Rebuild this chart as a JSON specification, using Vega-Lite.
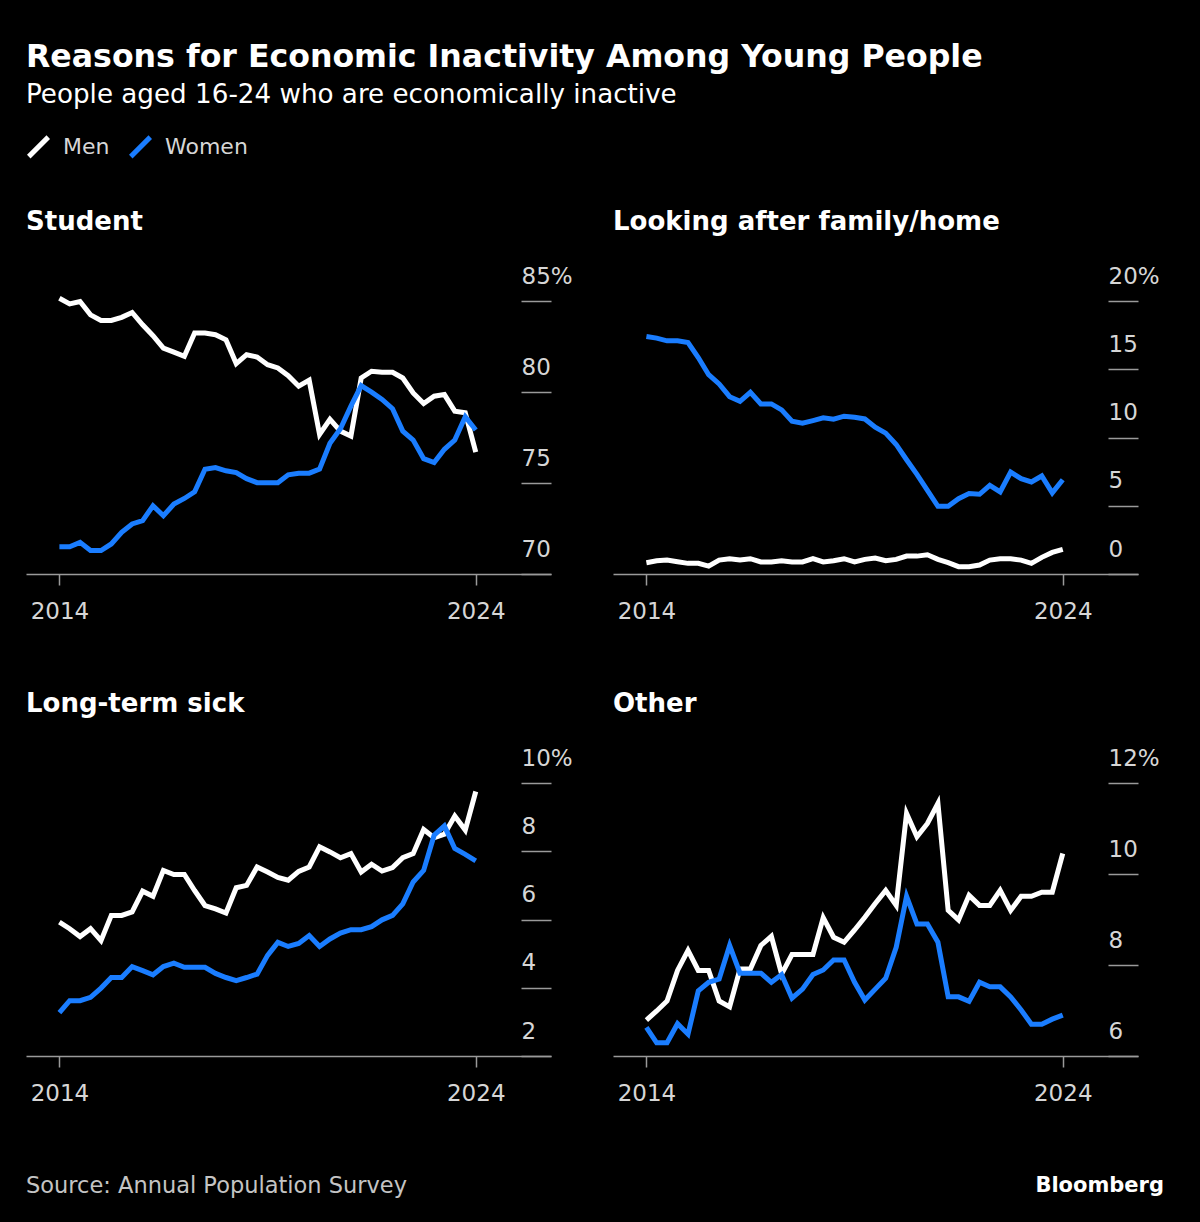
{
  "$schema": "https://vega.github.io/schema/vega-lite/v6.json",
  "background": "#000000",
  "padding": {"left": 26, "right": 36, "top": 42, "bottom": 25},
  "title": {
    "text": "Reasons for Economic Inactivity Among Young People",
    "subtitle": "People aged 16-24 who are economically inactive",
    "anchor": "start",
    "font": "DejaVu Sans",
    "fontSize": 31.6,
    "fontWeight": "bold",
    "color": "#ffffff",
    "subtitleFont": "DejaVu Sans",
    "subtitleFontSize": 26.2,
    "subtitleFontWeight": "normal",
    "subtitleColor": "#ffffff",
    "subtitlePadding": 8,
    "offset": 26
  },
  "datasets": {
    "student": [
      {"date":"2014-01-01","sex":"Men","value":85.15},{"date":"2014-04-01","sex":"Men","value":84.84},{"date":"2014-07-01","sex":"Men","value":84.97},{"date":"2014-10-01","sex":"Men","value":84.24},
      {"date":"2015-01-01","sex":"Men","value":83.93},{"date":"2015-04-01","sex":"Men","value":83.93},{"date":"2015-07-01","sex":"Men","value":84.1},{"date":"2015-10-01","sex":"Men","value":84.37},
      {"date":"2016-01-01","sex":"Men","value":83.69},{"date":"2016-04-01","sex":"Men","value":83.09},{"date":"2016-07-01","sex":"Men","value":82.41},{"date":"2016-10-01","sex":"Men","value":82.19},
      {"date":"2017-01-01","sex":"Men","value":81.96},{"date":"2017-04-01","sex":"Men","value":83.24},{"date":"2017-07-01","sex":"Men","value":83.24},{"date":"2017-10-01","sex":"Men","value":83.15},
      {"date":"2018-01-01","sex":"Men","value":82.87},{"date":"2018-04-01","sex":"Men","value":81.56},{"date":"2018-07-01","sex":"Men","value":82.05},{"date":"2018-10-01","sex":"Men","value":81.92},
      {"date":"2019-01-01","sex":"Men","value":81.5},{"date":"2019-04-01","sex":"Men","value":81.32},{"date":"2019-07-01","sex":"Men","value":80.9},{"date":"2019-10-01","sex":"Men","value":80.32},
      {"date":"2020-01-01","sex":"Men","value":80.65},{"date":"2020-04-01","sex":"Men","value":77.67},{"date":"2020-07-01","sex":"Men","value":78.5},{"date":"2020-10-01","sex":"Men","value":77.85},
      {"date":"2021-01-01","sex":"Men","value":77.58},{"date":"2021-04-01","sex":"Men","value":80.77},{"date":"2021-07-01","sex":"Men","value":81.14},{"date":"2021-10-01","sex":"Men","value":81.08},
      {"date":"2022-01-01","sex":"Men","value":81.08},{"date":"2022-04-01","sex":"Men","value":80.77},{"date":"2022-07-01","sex":"Men","value":79.95},{"date":"2022-10-01","sex":"Men","value":79.37},
      {"date":"2023-01-01","sex":"Men","value":79.77},{"date":"2023-04-01","sex":"Men","value":79.86},{"date":"2023-07-01","sex":"Men","value":78.95},{"date":"2023-10-01","sex":"Men","value":78.86},
      {"date":"2024-01-01","sex":"Men","value":76.7},
      {"date":"2014-01-01","sex":"Women","value":71.5},{"date":"2014-04-01","sex":"Women","value":71.5},{"date":"2014-07-01","sex":"Women","value":71.74},{"date":"2014-10-01","sex":"Women","value":71.29},
      {"date":"2015-01-01","sex":"Women","value":71.29},{"date":"2015-04-01","sex":"Women","value":71.65},{"date":"2015-07-01","sex":"Women","value":72.29},{"date":"2015-10-01","sex":"Women","value":72.75},
      {"date":"2016-01-01","sex":"Women","value":72.93},{"date":"2016-04-01","sex":"Women","value":73.75},{"date":"2016-07-01","sex":"Women","value":73.2},{"date":"2016-10-01","sex":"Women","value":73.84},
      {"date":"2017-01-01","sex":"Women","value":74.15},{"date":"2017-04-01","sex":"Women","value":74.52},{"date":"2017-07-01","sex":"Women","value":75.76},{"date":"2017-10-01","sex":"Women","value":75.85},
      {"date":"2018-01-01","sex":"Women","value":75.67},{"date":"2018-04-01","sex":"Women","value":75.57},{"date":"2018-07-01","sex":"Women","value":75.24},{"date":"2018-10-01","sex":"Women","value":75.02},
      {"date":"2019-01-01","sex":"Women","value":75.02},{"date":"2019-04-01","sex":"Women","value":75.02},{"date":"2019-07-01","sex":"Women","value":75.45},{"date":"2019-10-01","sex":"Women","value":75.54},
      {"date":"2020-01-01","sex":"Women","value":75.54},{"date":"2020-04-01","sex":"Women","value":75.76},{"date":"2020-07-01","sex":"Women","value":77.18},{"date":"2020-10-01","sex":"Women","value":77.98},
      {"date":"2021-01-01","sex":"Women","value":79.22},{"date":"2021-04-01","sex":"Women","value":80.35},{"date":"2021-07-01","sex":"Women","value":79.99},{"date":"2021-10-01","sex":"Women","value":79.59},
      {"date":"2022-01-01","sex":"Women","value":79.08},{"date":"2022-04-01","sex":"Women","value":77.85},{"date":"2022-07-01","sex":"Women","value":77.36},{"date":"2022-10-01","sex":"Women","value":76.34},
      {"date":"2023-01-01","sex":"Women","value":76.12},{"date":"2023-04-01","sex":"Women","value":76.85},{"date":"2023-07-01","sex":"Women","value":77.36},{"date":"2023-10-01","sex":"Women","value":78.64},
      {"date":"2024-01-01","sex":"Women","value":77.91}
    ],
    "family": [
      {"date":"2014-01-01","sex":"Men","value":0.83},{"date":"2014-04-01","sex":"Men","value":0.97},{"date":"2014-07-01","sex":"Men","value":1.02},{"date":"2014-10-01","sex":"Men","value":0.9},
      {"date":"2015-01-01","sex":"Men","value":0.78},{"date":"2015-04-01","sex":"Men","value":0.78},{"date":"2015-07-01","sex":"Men","value":0.58},{"date":"2015-10-01","sex":"Men","value":1.02},
      {"date":"2016-01-01","sex":"Men","value":1.12},{"date":"2016-04-01","sex":"Men","value":1.02},{"date":"2016-07-01","sex":"Men","value":1.12},{"date":"2016-10-01","sex":"Men","value":0.88},
      {"date":"2017-01-01","sex":"Men","value":0.88},{"date":"2017-04-01","sex":"Men","value":0.97},{"date":"2017-07-01","sex":"Men","value":0.88},{"date":"2017-10-01","sex":"Men","value":0.88},
      {"date":"2018-01-01","sex":"Men","value":1.12},{"date":"2018-04-01","sex":"Men","value":0.88},{"date":"2018-07-01","sex":"Men","value":0.97},{"date":"2018-10-01","sex":"Men","value":1.12},
      {"date":"2019-01-01","sex":"Men","value":0.88},{"date":"2019-04-01","sex":"Men","value":1.07},{"date":"2019-07-01","sex":"Men","value":1.17},{"date":"2019-10-01","sex":"Men","value":0.97},
      {"date":"2020-01-01","sex":"Men","value":1.07},{"date":"2020-04-01","sex":"Men","value":1.31},{"date":"2020-07-01","sex":"Men","value":1.31},{"date":"2020-10-01","sex":"Men","value":1.41},
      {"date":"2021-01-01","sex":"Men","value":1.07},{"date":"2021-04-01","sex":"Men","value":0.83},{"date":"2021-07-01","sex":"Men","value":0.54},{"date":"2021-10-01","sex":"Men","value":0.54},
      {"date":"2022-01-01","sex":"Men","value":0.66},{"date":"2022-04-01","sex":"Men","value":1.02},{"date":"2022-07-01","sex":"Men","value":1.12},{"date":"2022-10-01","sex":"Men","value":1.12},
      {"date":"2023-01-01","sex":"Men","value":1.02},{"date":"2023-04-01","sex":"Men","value":0.78},{"date":"2023-07-01","sex":"Men","value":1.22},{"date":"2023-10-01","sex":"Men","value":1.58},
      {"date":"2024-01-01","sex":"Men","value":1.8},
      {"date":"2014-01-01","sex":"Women","value":17.4},{"date":"2014-04-01","sex":"Women","value":17.28},{"date":"2014-07-01","sex":"Women","value":17.08},{"date":"2014-10-01","sex":"Women","value":17.08},
      {"date":"2015-01-01","sex":"Women","value":16.96},{"date":"2015-04-01","sex":"Women","value":15.86},{"date":"2015-07-01","sex":"Women","value":14.6},{"date":"2015-10-01","sex":"Women","value":13.92},
      {"date":"2016-01-01","sex":"Women","value":12.99},{"date":"2016-04-01","sex":"Women","value":12.65},{"date":"2016-07-01","sex":"Women","value":13.31},{"date":"2016-10-01","sex":"Women","value":12.46},
      {"date":"2017-01-01","sex":"Women","value":12.46},{"date":"2017-04-01","sex":"Women","value":12.02},{"date":"2017-07-01","sex":"Women","value":11.19},{"date":"2017-10-01","sex":"Women","value":11.05},
      {"date":"2018-01-01","sex":"Women","value":11.24},{"date":"2018-04-01","sex":"Women","value":11.44},{"date":"2018-07-01","sex":"Women","value":11.34},{"date":"2018-10-01","sex":"Women","value":11.56},
      {"date":"2019-01-01","sex":"Women","value":11.48},{"date":"2019-04-01","sex":"Women","value":11.36},{"date":"2019-07-01","sex":"Women","value":10.75},{"date":"2019-10-01","sex":"Women","value":10.32},
      {"date":"2020-01-01","sex":"Women","value":9.49},{"date":"2020-04-01","sex":"Women","value":8.37},{"date":"2020-07-01","sex":"Women","value":7.3},{"date":"2020-10-01","sex":"Women","value":6.13},
      {"date":"2021-01-01","sex":"Women","value":4.96},{"date":"2021-04-01","sex":"Women","value":4.96},{"date":"2021-07-01","sex":"Women","value":5.52},{"date":"2021-10-01","sex":"Women","value":5.89},
      {"date":"2022-01-01","sex":"Women","value":5.84},{"date":"2022-04-01","sex":"Women","value":6.5},{"date":"2022-07-01","sex":"Women","value":6.01},{"date":"2022-10-01","sex":"Women","value":7.47},
      {"date":"2023-01-01","sex":"Women","value":6.98},{"date":"2023-04-01","sex":"Women","value":6.74},{"date":"2023-07-01","sex":"Women","value":7.18},{"date":"2023-10-01","sex":"Women","value":5.94},
      {"date":"2024-01-01","sex":"Women","value":6.91}
    ],
    "sick": [
      {"date":"2014-01-01","sex":"Men","value":5.92},{"date":"2014-04-01","sex":"Men","value":5.73},{"date":"2014-07-01","sex":"Men","value":5.5},{"date":"2014-10-01","sex":"Men","value":5.73},
      {"date":"2015-01-01","sex":"Men","value":5.38},{"date":"2015-04-01","sex":"Men","value":6.12},{"date":"2015-07-01","sex":"Men","value":6.12},{"date":"2015-10-01","sex":"Men","value":6.22},
      {"date":"2016-01-01","sex":"Men","value":6.83},{"date":"2016-04-01","sex":"Men","value":6.68},{"date":"2016-07-01","sex":"Men","value":7.44},{"date":"2016-10-01","sex":"Men","value":7.32},
      {"date":"2017-01-01","sex":"Men","value":7.32},{"date":"2017-04-01","sex":"Men","value":6.85},{"date":"2017-07-01","sex":"Men","value":6.41},{"date":"2017-10-01","sex":"Men","value":6.31},
      {"date":"2018-01-01","sex":"Men","value":6.19},{"date":"2018-04-01","sex":"Men","value":6.93},{"date":"2018-07-01","sex":"Men","value":7.0},{"date":"2018-10-01","sex":"Men","value":7.54},
      {"date":"2019-01-01","sex":"Men","value":7.39},{"date":"2019-04-01","sex":"Men","value":7.23},{"date":"2019-07-01","sex":"Men","value":7.15},{"date":"2019-10-01","sex":"Men","value":7.41},
      {"date":"2020-01-01","sex":"Men","value":7.54},{"date":"2020-04-01","sex":"Men","value":8.13},{"date":"2020-07-01","sex":"Men","value":7.98},{"date":"2020-10-01","sex":"Men","value":7.81},
      {"date":"2021-01-01","sex":"Men","value":7.93},{"date":"2021-04-01","sex":"Men","value":7.39},{"date":"2021-07-01","sex":"Men","value":7.62},{"date":"2021-10-01","sex":"Men","value":7.42},
      {"date":"2022-01-01","sex":"Men","value":7.52},{"date":"2022-04-01","sex":"Men","value":7.81},{"date":"2022-07-01","sex":"Men","value":7.93},{"date":"2022-10-01","sex":"Men","value":8.64},
      {"date":"2023-01-01","sex":"Men","value":8.4},{"date":"2023-04-01","sex":"Men","value":8.5},{"date":"2023-07-01","sex":"Men","value":9.03},{"date":"2023-10-01","sex":"Men","value":8.62},
      {"date":"2024-01-01","sex":"Men","value":9.75},
      {"date":"2014-01-01","sex":"Women","value":3.27},{"date":"2014-04-01","sex":"Women","value":3.62},{"date":"2014-07-01","sex":"Women","value":3.62},{"date":"2014-10-01","sex":"Women","value":3.72},
      {"date":"2015-01-01","sex":"Women","value":3.99},{"date":"2015-04-01","sex":"Women","value":4.3},{"date":"2015-07-01","sex":"Women","value":4.3},{"date":"2015-10-01","sex":"Women","value":4.62},
      {"date":"2016-01-01","sex":"Women","value":4.5},{"date":"2016-04-01","sex":"Women","value":4.38},{"date":"2016-07-01","sex":"Women","value":4.62},{"date":"2016-10-01","sex":"Women","value":4.72},
      {"date":"2017-01-01","sex":"Women","value":4.6},{"date":"2017-04-01","sex":"Women","value":4.6},{"date":"2017-07-01","sex":"Women","value":4.6},{"date":"2017-10-01","sex":"Women","value":4.42},
      {"date":"2018-01-01","sex":"Women","value":4.3},{"date":"2018-04-01","sex":"Women","value":4.21},{"date":"2018-07-01","sex":"Women","value":4.3},{"date":"2018-10-01","sex":"Women","value":4.4},
      {"date":"2019-01-01","sex":"Women","value":4.95},{"date":"2019-04-01","sex":"Women","value":5.33},{"date":"2019-07-01","sex":"Women","value":5.21},{"date":"2019-10-01","sex":"Women","value":5.3},
      {"date":"2020-01-01","sex":"Women","value":5.53},{"date":"2020-04-01","sex":"Women","value":5.21},{"date":"2020-07-01","sex":"Women","value":5.43},{"date":"2020-10-01","sex":"Women","value":5.6},
      {"date":"2021-01-01","sex":"Women","value":5.7},{"date":"2021-04-01","sex":"Women","value":5.7},{"date":"2021-07-01","sex":"Women","value":5.79},{"date":"2021-10-01","sex":"Women","value":5.99},
      {"date":"2022-01-01","sex":"Women","value":6.12},{"date":"2022-04-01","sex":"Women","value":6.46},{"date":"2022-07-01","sex":"Women","value":7.1},{"date":"2022-10-01","sex":"Women","value":7.44},
      {"date":"2023-01-01","sex":"Women","value":8.47},{"date":"2023-04-01","sex":"Women","value":8.74},{"date":"2023-07-01","sex":"Women","value":8.08},{"date":"2023-10-01","sex":"Women","value":7.91},
      {"date":"2024-01-01","sex":"Women","value":7.72}
    ],
    "other": [
      {"date":"2014-01-01","sex":"Men","value":6.79},{"date":"2014-04-01","sex":"Men","value":6.99},{"date":"2014-07-01","sex":"Men","value":7.21},{"date":"2014-10-01","sex":"Men","value":7.88},
      {"date":"2015-01-01","sex":"Men","value":8.32},{"date":"2015-04-01","sex":"Men","value":7.88},{"date":"2015-07-01","sex":"Men","value":7.88},{"date":"2015-10-01","sex":"Men","value":7.21},
      {"date":"2016-01-01","sex":"Men","value":7.08},{"date":"2016-04-01","sex":"Men","value":7.91},{"date":"2016-07-01","sex":"Men","value":7.91},{"date":"2016-10-01","sex":"Men","value":8.43},
      {"date":"2017-01-01","sex":"Men","value":8.63},{"date":"2017-04-01","sex":"Men","value":7.8},{"date":"2017-07-01","sex":"Men","value":8.23},{"date":"2017-10-01","sex":"Men","value":8.23},
      {"date":"2018-01-01","sex":"Men","value":8.23},{"date":"2018-04-01","sex":"Men","value":9.04},{"date":"2018-07-01","sex":"Men","value":8.61},{"date":"2018-10-01","sex":"Men","value":8.5},
      {"date":"2019-01-01","sex":"Men","value":8.77},{"date":"2019-04-01","sex":"Men","value":9.05},{"date":"2019-07-01","sex":"Men","value":9.35},{"date":"2019-10-01","sex":"Men","value":9.64},
      {"date":"2020-01-01","sex":"Men","value":9.31},{"date":"2020-04-01","sex":"Men","value":11.33},{"date":"2020-07-01","sex":"Men","value":10.82},{"date":"2020-10-01","sex":"Men","value":11.11},
      {"date":"2021-01-01","sex":"Men","value":11.55},{"date":"2021-04-01","sex":"Men","value":9.2},{"date":"2021-07-01","sex":"Men","value":8.99},{"date":"2021-10-01","sex":"Men","value":9.53},
      {"date":"2022-01-01","sex":"Men","value":9.31},{"date":"2022-04-01","sex":"Men","value":9.31},{"date":"2022-07-01","sex":"Men","value":9.64},{"date":"2022-10-01","sex":"Men","value":9.2},
      {"date":"2023-01-01","sex":"Men","value":9.51},{"date":"2023-04-01","sex":"Men","value":9.51},{"date":"2023-07-01","sex":"Men","value":9.6},{"date":"2023-10-01","sex":"Men","value":9.6},
      {"date":"2024-01-01","sex":"Men","value":10.45},
      {"date":"2014-01-01","sex":"Women","value":6.63},{"date":"2014-04-01","sex":"Women","value":6.29},{"date":"2014-07-01","sex":"Women","value":6.29},{"date":"2014-10-01","sex":"Women","value":6.71},
      {"date":"2015-01-01","sex":"Women","value":6.48},{"date":"2015-04-01","sex":"Women","value":7.43},{"date":"2015-07-01","sex":"Women","value":7.62},{"date":"2015-10-01","sex":"Women","value":7.69},
      {"date":"2016-01-01","sex":"Women","value":8.43},{"date":"2016-04-01","sex":"Women","value":7.82},{"date":"2016-07-01","sex":"Women","value":7.82},{"date":"2016-10-01","sex":"Women","value":7.82},
      {"date":"2017-01-01","sex":"Women","value":7.62},{"date":"2017-04-01","sex":"Women","value":7.79},{"date":"2017-07-01","sex":"Women","value":7.27},{"date":"2017-10-01","sex":"Women","value":7.47},
      {"date":"2018-01-01","sex":"Women","value":7.79},{"date":"2018-04-01","sex":"Women","value":7.89},{"date":"2018-07-01","sex":"Women","value":8.11},{"date":"2018-10-01","sex":"Women","value":8.11},
      {"date":"2019-01-01","sex":"Women","value":7.62},{"date":"2019-04-01","sex":"Women","value":7.23},{"date":"2019-07-01","sex":"Women","value":7.47},{"date":"2019-10-01","sex":"Women","value":7.71},
      {"date":"2020-01-01","sex":"Women","value":8.39},{"date":"2020-04-01","sex":"Women","value":9.51},{"date":"2020-07-01","sex":"Women","value":8.9},{"date":"2020-10-01","sex":"Women","value":8.9},
      {"date":"2021-01-01","sex":"Women","value":8.5},{"date":"2021-04-01","sex":"Women","value":7.3},{"date":"2021-07-01","sex":"Women","value":7.3},{"date":"2021-10-01","sex":"Women","value":7.2},
      {"date":"2022-01-01","sex":"Women","value":7.62},{"date":"2022-04-01","sex":"Women","value":7.52},{"date":"2022-07-01","sex":"Women","value":7.52},{"date":"2022-10-01","sex":"Women","value":7.3},
      {"date":"2023-01-01","sex":"Women","value":7.01},{"date":"2023-04-01","sex":"Women","value":6.7},{"date":"2023-07-01","sex":"Women","value":6.7},{"date":"2023-10-01","sex":"Women","value":6.81},
      {"date":"2024-01-01","sex":"Women","value":6.9}
    ]
  },
  "config": {
    "view": {"stroke": null},
    "font": "DejaVu Sans",
    "title": {"anchor": "start", "font": "DejaVu Sans", "fontSize": 26, "fontWeight": "bold", "color": "#ffffff", "offset": 30},
    "axisX": {"domainColor": "#9a9a9a", "domainWidth": 1.5, "tickColor": "#9a9a9a", "tickWidth": 1.5, "tickSize": 11, "labelFontSize": 23, "labelFont": "DejaVu Sans", "labelColor": "#d6d6d6", "labelPadding": 15, "labelFlush": false, "grid": false, "title": null},
    "axisY": {"domain": false, "grid": false, "tickSize": -30, "tickColor": "#9a9a9a", "tickWidth": 1.5, "labelAlign": "left", "labelBaseline": "alphabetic", "labelOffset": -18, "labelPadding": 0, "labelFontSize": 23, "labelFont": "DejaVu Sans", "labelColor": "#d6d6d6", "title": null},
    "legend": {"orient": "top", "direction": "horizontal", "title": null, "symbolType": "M-1,1L1,-1", "symbolSize": 380, "symbolStrokeWidth": 5, "labelFontSize": 22, "labelFont": "DejaVu Sans", "labelColor": "#d6d6d6", "labelOffset": 12, "columnPadding": 10, "offset": 42, "padding": 0}
  },
  "resolve": {"scale": {"x": "independent", "y": "independent"}},
  "spacing": 68,
  "vconcat": [
    {
      "hconcat": [
        {
          "width": 525, "height": 273,
          "title": "Student",
          "data": {"name": "student"},
          "mark": {"type": "line", "strokeWidth": 5},
          "encoding": {
            "x": {"field": "date", "type": "temporal", "scale": {"type": "utc", "domain": [{"year": 2013, "month": 3, "date": 14, "utc": true}, {"year": 2025, "month": 10, "date": 22, "utc": true}]}, "axis": {"values": [{"year": 2014, "month": 1, "date": 1, "utc": true}, {"year": 2024, "month": 1, "date": 1, "utc": true}], "format": "%Y"}},
            "y": {"field": "value", "type": "quantitative", "scale": {"domain": [70, 85], "zero": false, "nice": false}, "axis": {"orient": "right", "values": [70, 75, 80, 85], "labelExpr": "datum.value == 85 ? '85%' : datum.label"}},
            "color": {"field": "sex", "type": "nominal", "scale": {"domain": ["Men", "Women"], "range": ["#ffffff", "#1a7dff"]}}
          }
        },
        {
          "width": 525, "height": 273,
          "title": "Looking after family/home",
          "data": {"name": "family"},
          "mark": {"type": "line", "strokeWidth": 5},
          "encoding": {
            "x": {"field": "date", "type": "temporal", "scale": {"type": "utc", "domain": [{"year": 2013, "month": 3, "date": 14, "utc": true}, {"year": 2025, "month": 10, "date": 22, "utc": true}]}, "axis": {"values": [{"year": 2014, "month": 1, "date": 1, "utc": true}, {"year": 2024, "month": 1, "date": 1, "utc": true}], "format": "%Y"}},
            "y": {"field": "value", "type": "quantitative", "scale": {"domain": [0, 20], "nice": false}, "axis": {"orient": "right", "values": [0, 5, 10, 15, 20], "labelExpr": "datum.value == 20 ? '20%' : datum.label"}},
            "color": {"field": "sex", "type": "nominal", "scale": {"domain": ["Men", "Women"], "range": ["#ffffff", "#1a7dff"]}}
          }
        }
      ],
      "spacing": 40,
      "resolve": {"scale": {"x": "independent", "y": "independent"}}
    },
    {
      "hconcat": [
        {
          "width": 525, "height": 273,
          "title": "Long-term sick",
          "data": {"name": "sick"},
          "mark": {"type": "line", "strokeWidth": 5},
          "encoding": {
            "x": {"field": "date", "type": "temporal", "scale": {"type": "utc", "domain": [{"year": 2013, "month": 3, "date": 14, "utc": true}, {"year": 2025, "month": 10, "date": 22, "utc": true}]}, "axis": {"values": [{"year": 2014, "month": 1, "date": 1, "utc": true}, {"year": 2024, "month": 1, "date": 1, "utc": true}], "format": "%Y"}},
            "y": {"field": "value", "type": "quantitative", "scale": {"domain": [2, 10], "zero": false, "nice": false}, "axis": {"orient": "right", "values": [2, 4, 6, 8, 10], "labelExpr": "datum.value == 10 ? '10%' : datum.label"}},
            "color": {"field": "sex", "type": "nominal", "scale": {"domain": ["Men", "Women"], "range": ["#ffffff", "#1a7dff"]}}
          }
        },
        {
          "width": 525, "height": 273,
          "title": "Other",
          "data": {"name": "other"},
          "mark": {"type": "line", "strokeWidth": 5},
          "encoding": {
            "x": {"field": "date", "type": "temporal", "scale": {"type": "utc", "domain": [{"year": 2013, "month": 3, "date": 14, "utc": true}, {"year": 2025, "month": 10, "date": 22, "utc": true}]}, "axis": {"values": [{"year": 2014, "month": 1, "date": 1, "utc": true}, {"year": 2024, "month": 1, "date": 1, "utc": true}], "format": "%Y"}},
            "y": {"field": "value", "type": "quantitative", "scale": {"domain": [6, 12], "zero": false, "nice": false}, "axis": {"orient": "right", "values": [6, 8, 10, 12], "labelExpr": "datum.value == 12 ? '12%' : datum.label"}},
            "color": {"field": "sex", "type": "nominal", "scale": {"domain": ["Men", "Women"], "range": ["#ffffff", "#1a7dff"]}}
          }
        }
      ],
      "spacing": 40,
      "resolve": {"scale": {"x": "independent", "y": "independent"}}
    },
    {
      "width": 1138, "height": 26,
      "resolve": {"scale": {"x": "shared"}},
      "layer": [
        {
          "data": {"values": [{"side": "left", "note": "Source: Annual Population Survey"}]},
          "mark": {"type": "text", "align": "left", "baseline": "middle", "font": "DejaVu Sans", "fontSize": 22.5, "color": "#c4c4c4"},
          "encoding": {
            "x": {"field": "side", "type": "nominal", "scale": {"type": "point", "domain": ["left", "right"], "padding": 0}, "axis": null},
            "text": {"field": "note"}
          }
        },
        {
          "data": {"values": [{"side": "right", "note": "Bloomberg"}]},
          "mark": {"type": "text", "align": "right", "baseline": "middle", "font": "DejaVu Sans", "fontSize": 21, "fontWeight": "bold", "color": "#ffffff"},
          "encoding": {
            "x": {"field": "side", "type": "nominal", "scale": {"type": "point", "domain": ["left", "right"], "padding": 0}, "axis": null},
            "text": {"field": "note"}
          }
        }
      ]
    }
  ]
}
